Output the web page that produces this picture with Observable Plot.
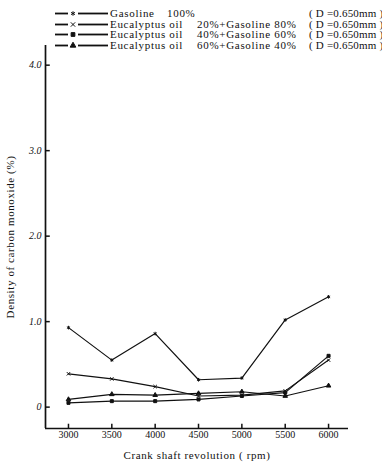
<!DOCTYPE html>
<html><head><meta charset="utf-8">
<script src="https://cdn.jsdelivr.net/npm/d3@7"></script>
<script src="https://cdn.jsdelivr.net/npm/@observablehq/plot@0.6"></script>
<style>
body{margin:0;background:#fff;}
#wrap{position:relative;width:382px;height:467px;font-family:"Liberation Serif","DejaVu Serif",serif;color:#111;}
#legend{position:absolute;left:0;top:0;width:382px;height:48px;font-size:11px;}
.row{position:absolute;left:0;height:11px;width:382px;}
.row svg{position:absolute;left:54px;top:0;}
.row span{position:absolute;top:-2px;white-space:pre;letter-spacing:0.7px;line-height:14px;}
</style></head>
<body><div id="wrap"><div id="legend"></div><div id="chart"></div></div>
<script>
// Data
const rpm = [3000, 3500, 4000, 4500, 5000, 5500, 6000];
const seriesNames = ["Gasoline 100%", "Eucalyptus oil 20%", "Eucalyptus oil 40%", "Eucalyptus oil 60%"];
const legendFuel = ["Gasoline", "Eucalyptus oil", "Eucalyptus oil", "Eucalyptus oil"];
const legendMix = ["100%", "20%+Gasoline 80%", "40%+Gasoline 60%", "60%+Gasoline 40%"];
const legendNote = "( D =0.650mm )";
const gasoline = [0.93, 0.55, 0.86, 0.32, 0.34, 1.02, 1.29];
const euc20 = [0.39, 0.33, 0.24, 0.13, 0.14, 0.19, 0.55];
const euc40 = [0.05, 0.07, 0.07, 0.09, 0.13, 0.17, 0.60];
const euc60 = [0.09, 0.15, 0.14, 0.16, 0.18, 0.13, 0.25];
const yTicks = [0, 1, 2, 3, 4];
const yTickLabels = ["0", "1.0", "2.0", "3.0", "4.0"];
const xLabel = "Crank shaft revolution ( rpm)";
const yLabel = "Density of carbon monoxide (%)";
const symbols = ["asterisk", "times", "square", "triangle"];
const d3symbols = [d3.symbolAsterisk, d3.symbolTimes, d3.symbolSquare, d3.symbolTriangle];

const seriesValues = [gasoline, euc20, euc40, euc60];
const data = [];
seriesValues.forEach((vals, s) => vals.forEach((v, i) => data.push({rpm: rpm[i], value: v, series: seriesNames[s]})));

const xDomain = [2735, 6230];
const yDomain = [-0.25, 4.23];

const chart = Plot.plot({
  width: 382, height: 467,
  marginLeft: 45, marginRight: 34, marginTop: 45, marginBottom: 39,
  style: {fontFamily: '"Liberation Serif","DejaVu Serif",serif', fontSize: "10px", background: "white", color: "#111"},
  x: {domain: xDomain},
  y: {domain: yDomain},
  symbol: {domain: seriesNames, range: symbols},
  marks: [
    Plot.axisX({ticks: rpm, tickSize: 0, tickPadding: 2, tickFormat: d => String(d),
      label: xLabel, labelArrow: "none", labelAnchor: "center", labelOffset: 30, fontSize: 10}),
    Plot.axisY({ticks: yTicks, tickSize: 0, tickPadding: 4, tickFormat: d => yTickLabels[yTicks.indexOf(d)],
      label: yLabel, labelArrow: "none", labelAnchor: "center", labelOffset: 39, fontStyle: "italic"}),
    Plot.ruleX([xDomain[0]], {stroke: "#111", strokeWidth: 1.7}),
    Plot.ruleY([yDomain[0]], {stroke: "#111", strokeWidth: 1.7}),
    Plot.ruleX(rpm, {y1: yDomain[0], y2: yDomain[0] + 0.05, stroke: "#111", strokeWidth: 1.5}),
    Plot.ruleY(yTicks, {x1: xDomain[0], x2: xDomain[0] + 55, stroke: "#111", strokeWidth: 1.5}),
    Plot.line(data, {x: "rpm", y: "value", z: "series", stroke: "#111", strokeWidth: 1.2}),
    Plot.dot(data, {x: "rpm", y: "value", symbol: "series", r: 1.7, fill: "#111", stroke: "#111", strokeWidth: 1})
  ]
});
document.getElementById("chart").appendChild(chart);

// axis titles: plain text, letter spacing
d3.select(chart).selectAll("g[aria-label='x-axis label'] text, g[aria-label='y-axis label'] text")
  .each(function() { this.textContent = this.textContent.replace(/\s*[→←↑↓]\s*/g, ""); })
  .style("letter-spacing", "0.6px").style("font-size", "11px").style("font-style", "normal");

// Legend (HTML + small svg swatches)
const legend = d3.select("#legend");
seriesNames.forEach((name, i) => {
  const row = legend.append("div").attr("class", "row").style("top", (8 + i * 10.5) + "px");
  const svg = row.append("svg").attr("width", 56).attr("height", 11);
  svg.append("line").attr("x1", 1).attr("x2", 14).attr("y1", 5.5).attr("y2", 5.5).attr("stroke", "#111").attr("stroke-width", 1.8);
  svg.append("line").attr("x1", 24).attr("x2", 54).attr("y1", 5.5).attr("y2", 5.5).attr("stroke", "#111").attr("stroke-width", 1.8);
  svg.append("path").attr("d", d3.symbol(d3symbols[i], 14)()).attr("transform", "translate(19,5.5)")
    .attr("fill", "#111").attr("stroke", "#111").attr("stroke-width", 1);
  row.append("span").style("left", "110px").text(legendFuel[i]);
  row.append("span").style("left", i === 0 ? "167px" : "197px").text(legendMix[i]);
  row.append("span").style("left", "309px").style("letter-spacing", "0.2px").text(legendNote);
});
</script>
</body></html>
